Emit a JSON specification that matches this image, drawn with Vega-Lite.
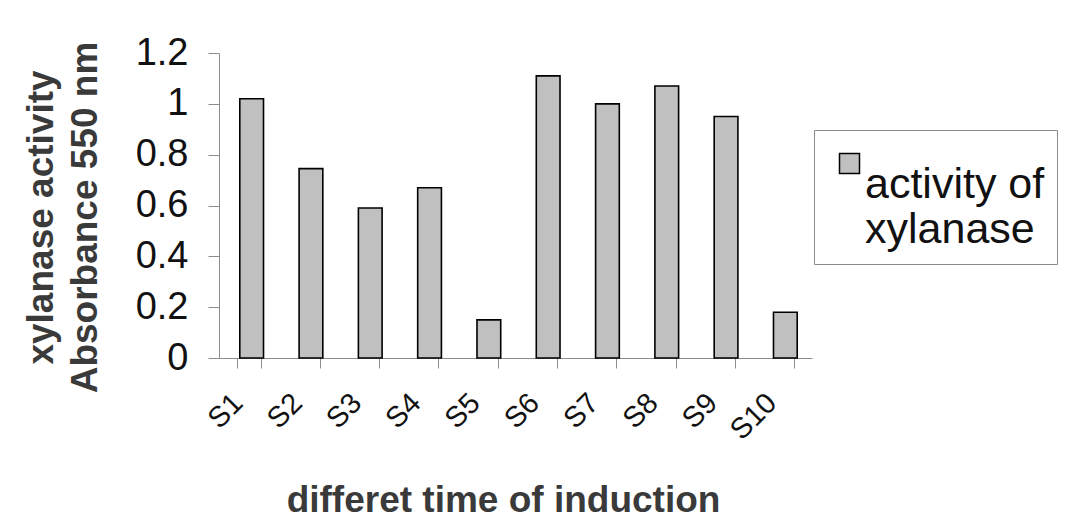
{
  "$schema": "https://vega.github.io/schema/vega-lite/v6.json",
  "autosize": {"type": "none"},
  "width": 593,
  "height": 305,
  "padding": {"left": 219, "top": 53, "right": 255, "bottom": 161},
  "background": "white",
  "config": {
    "view": {"stroke": null},
    "font": "Liberation Sans"
  },
  "data": {
    "values": [
      {"sample": "S1", "activity": 1.02, "series": "activity of xylanase"},
      {"sample": "S2", "activity": 0.745, "series": "activity of xylanase"},
      {"sample": "S3", "activity": 0.59, "series": "activity of xylanase"},
      {"sample": "S4", "activity": 0.67, "series": "activity of xylanase"},
      {"sample": "S5", "activity": 0.15, "series": "activity of xylanase"},
      {"sample": "S6", "activity": 1.11, "series": "activity of xylanase"},
      {"sample": "S7", "activity": 1.0, "series": "activity of xylanase"},
      {"sample": "S8", "activity": 1.07, "series": "activity of xylanase"},
      {"sample": "S9", "activity": 0.95, "series": "activity of xylanase"},
      {"sample": "S10", "activity": 0.18, "series": "activity of xylanase"}
    ]
  },
  "mark": {"type": "bar", "stroke": "#000000", "strokeWidth": 1.6, "xOffset": 3},
  "encoding": {
    "x": {
      "field": "sample",
      "type": "nominal",
      "sort": null,
      "scale": {"paddingInner": 0.6, "paddingOuter": 0.3},
      "axis": {
        "title": "differet time of induction",
        "titleFont": "Liberation Sans",
        "titleFontWeight": "bold",
        "titleFontSize": 37,
        "titleColor": "#3a3a3a",
        "titleBaseline": "alphabetic",
        "titleX": 284,
        "titleY": 153,
        "titleAlign": "center",
        "domainColor": "#8c8c8c",
        "domainWidth": 1,
        "tickColor": "#8c8c8c",
        "tickSize": 10,
        "tickBand": "extent",
        "labelAngle": -45,
        "labelAlign": "right",
        "labelBaseline": "middle",
        "labelFontSize": 29,
        "labelColor": "#111111",
        "labelPadding": 30,
        "labelOffset": -11
      }
    },
    "y": {
      "field": "activity",
      "type": "quantitative",
      "scale": {"domain": [0, 1.2], "nice": false},
      "axis": {
        "title": ["xylanase activity", "Absorbance 550 nm"],
        "titleFont": "Liberation Sans",
        "titleFontWeight": "bold",
        "titleFontSize": 37,
        "titleColor": "#3a3a3a",
        "titleAngle": -90,
        "titleBaseline": "alphabetic",
        "titleAlign": "center",
        "titleLineHeight": 44,
        "titleX": -167,
        "titleY": 164,
        "values": [0, 0.2, 0.4, 0.6, 0.8, 1, 1.2],
        "format": ".1~f",
        "grid": false,
        "domainColor": "#8c8c8c",
        "domainWidth": 1,
        "tickColor": "#8c8c8c",
        "tickSize": 11,
        "labelFontSize": 38,
        "labelColor": "#111111",
        "labelPadding": 20
      }
    },
    "fill": {
      "field": "series",
      "type": "nominal",
      "scale": {"range": ["#c0c0c0"]},
      "legend": {
        "title": null,
        "orient": "none",
        "legendX": 595,
        "legendY": 77,
        "strokeColor": "#8c8c8c",
        "padding": 12,
        "symbolType": "square",
        "symbolSize": 400,
        "symbolStrokeColor": "#000000",
        "symbolStrokeWidth": 1.5,
        "symbolOffset": 2,
        "labelFontSize": 43,
        "labelColor": "#111111",
        "labelOffset": -6,
        "labelBaseline": "top",
        "labelLineHeight": 44,
        "labelLimit": 400,
        "labelExpr": "['activity of', 'xylanase']"
      }
    }
  }
}
